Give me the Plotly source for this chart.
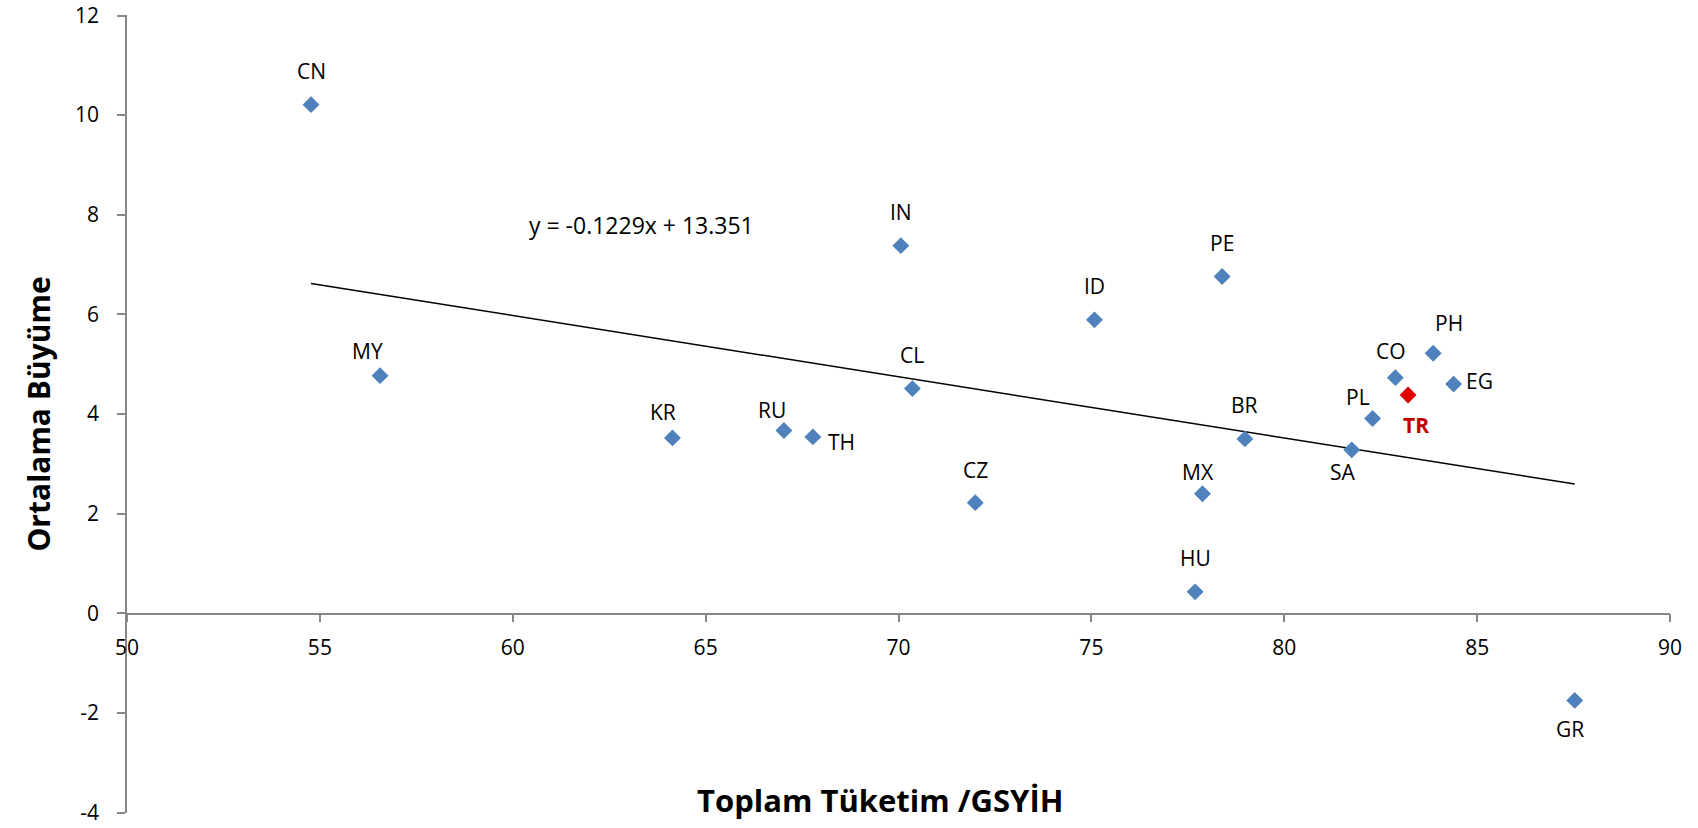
import plotly.graph_objects as go

# ---- data ----
countries = ["CN", "MY", "KR", "RU", "TH", "IN", "CL", "CZ", "ID", "PE",
             "HU", "MX", "BR", "SA", "PL", "CO", "TR", "PH", "EG", "GR"]
consumption = [54.77, 56.56, 64.14, 67.03, 67.78, 70.06, 70.36, 71.99, 75.08, 78.39,
               77.69, 77.88, 78.98, 81.75, 82.29, 82.88, 83.21, 83.86, 84.39, 87.53]
growth = [10.21, 4.77, 3.52, 3.67, 3.54, 7.38, 4.51, 2.22, 5.89, 6.76,
          0.43, 2.40, 3.50, 3.28, 3.91, 4.73, 4.38, 5.22, 4.60, -1.75]
trend_slope = -0.1229
trend_intercept = 13.351
x_ticks = [50, 55, 60, 65, 70, 75, 80, 85, 90]
y_ticks = [-4, -2, 0, 2, 4, 6, 8, 10, 12]
y_tick_labels = ["-4", "-2", "0", "2", "4", "6", "8", "10", "12"]

# label offsets (px) relative to marker: (dx, dy), dy positive = up
label_offsets = {
    "CN": (0, 34), "MY": (-13, 25), "KR": (-9, 26), "RU": (-12, 20), "TH": (29, -5),
    "IN": (0, 34), "CL": (0, 34), "CZ": (0, 33), "ID": (0, 34), "PE": (0, 34),
    "HU": (0, 34), "MX": (-4, 22), "BR": (0, 34), "SA": (-9, -22), "PL": (-15, 21),
    "CO": (-4, 27), "TR": (8, -30), "PH": (16, 30), "EG": (26, 3), "GR": (-5, -29),
}

BLUE = "#4F81BD"
RED = "#E00000"
FONT = "Open Sans"

fig = go.Figure()

# trend line
x0, x1 = min(consumption), max(consumption)
fig.add_trace(go.Scatter(
    x=[x0, x1], y=[trend_slope * x0 + trend_intercept, trend_slope * x1 + trend_intercept],
    mode="lines", line=dict(color="black", width=1.5), hoverinfo="skip", showlegend=False))

colors = [RED if c == "TR" else BLUE for c in countries]
fig.add_trace(go.Scatter(
    x=consumption, y=growth, mode="markers", text=countries,
    marker=dict(symbol="diamond", size=13, color=colors, line=dict(width=0)),
    showlegend=False))

for c, xv, yv in zip(countries, consumption, growth):
    dx, dy = label_offsets[c]
    is_tr = c == "TR"
    fig.add_annotation(
        x=xv, y=yv, text=f"<b>{c}</b>" if is_tr else c, showarrow=False,
        xshift=dx, yshift=dy,
        font=dict(family=FONT, size=21, color="#C00000" if is_tr else "black"))

fig.add_annotation(
    x=63.34, y=7.79, text=f"y = {trend_slope}x + {trend_intercept}", showarrow=False,
    font=dict(family=FONT, size=23, color="black"))

# axis titles
fig.add_annotation(
    x=69.52, y=-3.74, text="<b>Toplam Tüketim /GSYİH</b>", showarrow=False,
    xanchor="center", yanchor="middle",
    font=dict(family=FONT, size=31, color="black"))
fig.add_annotation(
    xref="paper", yref="paper", x=-0.058, y=0.5, textangle=-90,
    xanchor="center", yanchor="middle",
    text="<b>Ortalama Büyüme</b>", showarrow=False,
    font=dict(family=FONT, size=30, color="black"))

fig.update_layout(
    width=1698, height=828,
    margin=dict(l=127, r=28, t=15, b=15, autoexpand=False),
    plot_bgcolor="white", paper_bgcolor="white",
    xaxis=dict(range=[50, 90], tickvals=x_ticks, showgrid=False, zeroline=False,
               showline=True, linecolor="#868686", linewidth=1.5,
               ticks="outside", ticklen=8, tickcolor="#868686", tickwidth=1.5,
               anchor="free", position=0.25, ticklabelstandoff=8, automargin=False,
               tickfont=dict(family=FONT, size=21, color="black")),
    yaxis=dict(range=[-4.01, 12.01], tickvals=y_ticks, ticktext=y_tick_labels,
               showgrid=False, zeroline=False,
               showline=True, linecolor="#868686", linewidth=1.5,
               ticks="outside", ticklen=8, tickcolor="#868686", tickwidth=1.5,
               ticklabelstandoff=14, ticklabeloverflow="allow", automargin=False,
               tickfont=dict(family=FONT, size=21, color="black")),
)

fig.write_html("out.html")
